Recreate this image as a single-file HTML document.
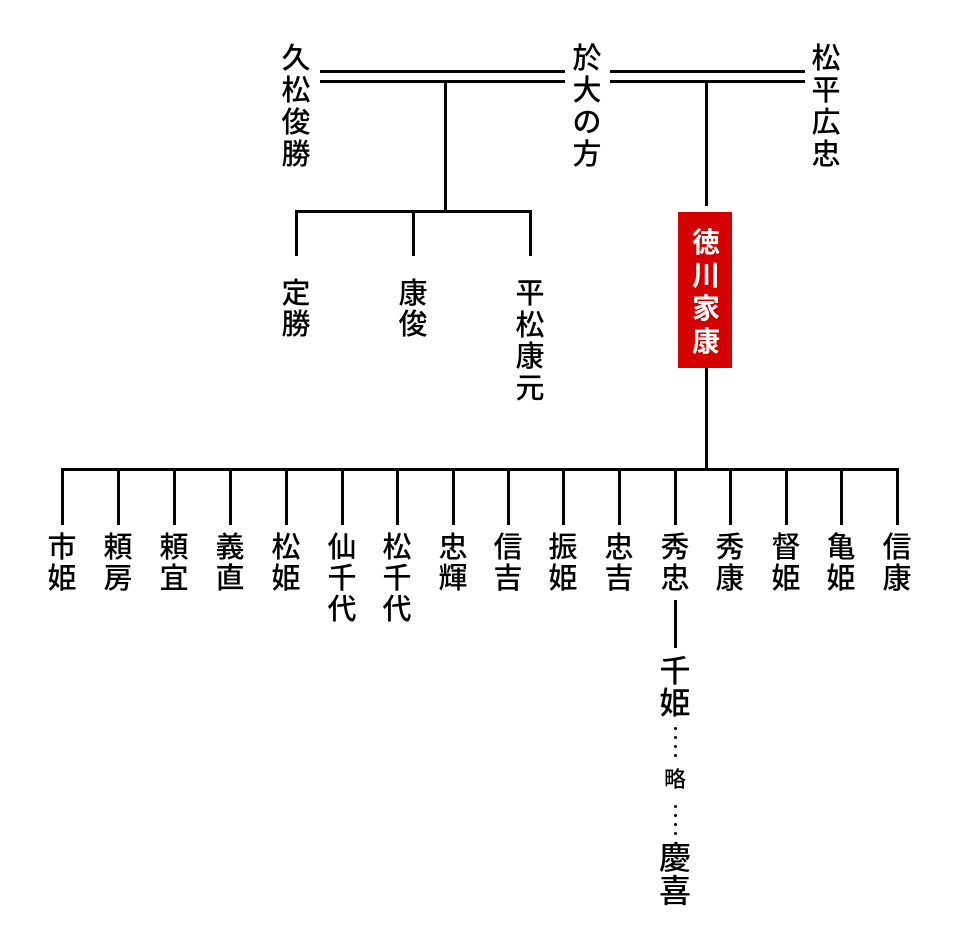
<!DOCTYPE html>
<html><head><meta charset="utf-8"><style>
body{margin:0;width:960px;height:940px;background:#fff;position:relative;overflow:hidden;font-family:"Liberation Sans","Noto Sans CJK JP",sans-serif;}
.l{position:absolute;background:#000;}
.t{position:absolute;width:40px;text-align:center;font-size:29px;line-height:31px;color:#000;font-weight:500;}
.d{position:absolute;left:674px;width:3px;height:3px;border-radius:50%;background:#000;}
</style></head><body>
<div class="l" style="left:320px;top:70px;width:245px;height:3px"></div>
<div class="l" style="left:320px;top:80px;width:245px;height:3px"></div>
<div class="l" style="left:610px;top:70px;width:195px;height:3px"></div>
<div class="l" style="left:610px;top:80px;width:195px;height:3px"></div>
<div class="l" style="left:444px;top:80px;width:3px;height:133px"></div>
<div class="l" style="left:295px;top:210px;width:237px;height:3px"></div>
<div class="l" style="left:295px;top:210px;width:3px;height:46px"></div>
<div class="l" style="left:412px;top:210px;width:3px;height:46px"></div>
<div class="l" style="left:529px;top:210px;width:3px;height:46px"></div>
<div class="l" style="left:705px;top:80px;width:3px;height:126px"></div>
<div style="position:absolute;left:678px;top:212px;width:54px;height:156px;background:#d40000"></div>
<div class="t" style="left:686px;top:226px;color:#fff;font-weight:bold;font-size:28px;line-height:33px">徳<br>川<br>家<br>康</div>
<div class="l" style="left:705px;top:368px;width:3px;height:103px"></div>
<div class="l" style="left:61px;top:468px;width:838px;height:3px"></div>
<div class="t" style="left:276px;top:43px;line-height:32px">久<br>松<br>俊<br>勝</div>
<div class="t" style="left:567px;top:43px;line-height:32px">於<br>大<br>の<br>方</div>
<div class="t" style="left:806px;top:43px;line-height:32px">松<br>平<br>広<br>忠</div>
<div class="t" style="left:276px;top:279px">定<br>勝</div>
<div class="t" style="left:393px;top:279px">康<br>俊</div>
<div class="t" style="left:510px;top:279px;line-height:31.5px">平<br>松<br>康<br>元</div>
<div id="kids"></div>
<div class="l" style="left:674px;top:600px;width:3px;height:48px"></div>
<div class="t" style="left:655px;top:656px;font-size:31px;line-height:32px">千<br>姫</div>
<div class="d" style="top:727px"></div><div class="d" style="top:736px"></div><div class="d" style="top:745px"></div><div class="d" style="top:754px"></div>
<div class="t" style="left:655px;top:766px;font-size:22px;line-height:28px">略</div>
<div class="d" style="top:805px"></div><div class="d" style="top:814px"></div><div class="d" style="top:823px"></div><div class="d" style="top:832px"></div>
<div class="t" style="left:653px;top:842px;font-size:32px;line-height:33px;width:44px">慶<br>喜</div>
<script>
var xs=[62,118,174,230,286,342,397,453,508,563,619,675,730,786,841,897];
var n=["市姫","頼房","頼宜","義直","松姫","仙千代","松千代","忠輝","信吉","振姫","忠吉","秀忠","秀康","督姫","亀姫","信康"];
var h="";
for(var i=0;i<16;i++){h+='<div class="l" style="left:'+(xs[i]-1)+'px;top:468px;width:3px;height:57px"></div>';
h+='<div class="t" style="left:'+(xs[i]-20)+'px;top:533px">'+n[i].split("").join("<br>")+'</div>';}
document.getElementById("kids").innerHTML=h;
</script>
</body></html>
